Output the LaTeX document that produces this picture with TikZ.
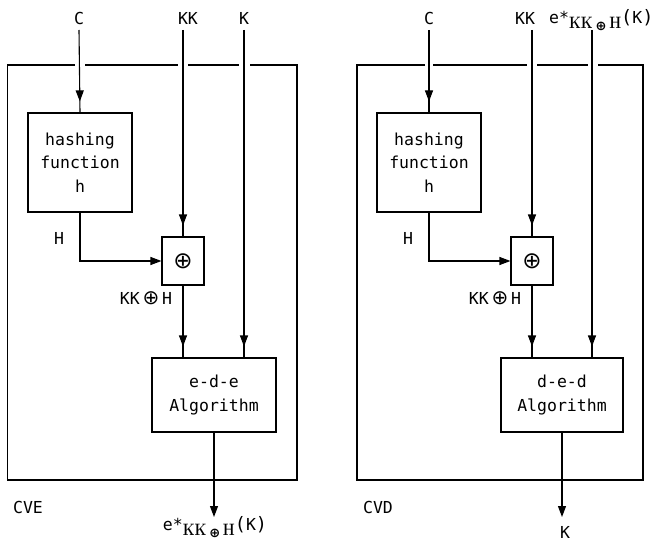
\documentclass[tikz,border=0pt]{standalone}
\usepackage{fontspec}
\usepackage{graphicx}
\setmonofont{DejaVu Sans Mono}
\newfontfamily\symfam{DejaVu Sans}
\usetikzlibrary{arrows.meta,decorations.markings}

% bold serif subscript part of the cipher label
\newcommand\kkhpart{{\rmfamily\bfseries\fontsize{16.5}{16.5}\selectfont\scalebox{0.82}[1]{KK}\,{\symfam\fontsize{13}{13}\selectfont\raisebox{-2pt}{⊕}}\,\scalebox{0.82}[1]{H}}}
\newcommand\cipherlabel{e*\raisebox{-5pt}{\kkhpart}{\fontsize{18.5}{18.5}\selectfont(}K{\fontsize{18.5}{18.5}\selectfont)}}
\newcommand\xorsym[1]{{\symfam\fontsize{#1}{#1}\selectfont ⊕}}

\tikzset{
  wire/.style={line width=1.1pt},
  feed/.style={wire, postaction={decorate},
    decoration={markings, mark=at position -11pt with {\arrow{Triangle[length=11pt,width=8pt]}}}},
  into/.style={wire, -{Triangle[length=11pt,width=8pt]}},
  blockbox/.style={draw, line width=1.1pt, inner sep=0pt, align=center},
  lbl/.style={inner sep=1pt},
}

\begin{document}
\begin{tikzpicture}[x=1pt, y=-1pt, font=\ttfamily\fontsize{16.5}{23.5}\selectfont]
\path[use as bounding box] (0,0) rectangle (657,543);

% ---------------- left unit: CVE ----------------
\draw[wire] (75,65) -| (7.5,480) -| (297,65) -- (250,65);
\draw[wire] (85,65) -- (178,65);
\draw[wire] (188,65) -- (239,65);

\node[lbl] (cL) at (79,18) {C};
\node[lbl] (kkL) at (188,18) {KK};
\node[lbl] (kL) at (244,18) {K};
\coordinate (cinL) at (79,30);
\coordinate (kkinL) at (183,30);
\coordinate (kinL) at (244,30);

\node[blockbox, minimum width=104pt, minimum height=99pt] (hL) at (80,162.5) {hashing\\function\\h};
\node[blockbox, minimum width=42pt, minimum height=48pt] (xL) at (183,261) {\xorsym{23}};
\node[blockbox, minimum width=124pt, minimum height=74pt] (aL) at (214,395) {e-d-e\\Algorithm};

\node[lbl] (hlabL) at (59,238) {H};
\node[lbl] (kxhL) at (146,298) {KK\,\xorsym{20}\,H};
\node[lbl] (cveL) at (28,507) {CVE};
\coordinate (outL) at (214,517);
\node[lbl, anchor=base] (resL) at (215,530) {\cipherlabel};

\draw[feed] (cinL) -- (hL.north);
\draw[feed] (kkinL) -- (xL.north);
\draw[into] (hL.south) |- (xL.west);
\draw[feed] (xL.south) -- (xL.south |- aL.north);
\draw[feed] (kinL) -- (kinL |- aL.north);
\draw[into] (aL.south) -- (outL);

% ---------------- right unit: CVD ----------------
\draw[wire] (425,65) -| (357,480) -| (643,65) -- (598,65);
\draw[wire] (433,65) -- (527,65);
\draw[wire] (537,65) -- (588,65);

\node[lbl] (cR) at (429,18) {C};
\node[lbl] (kkR) at (525,18) {KK};
\node[lbl, anchor=base west] (eR) at (548,24) {\cipherlabel};
\coordinate (cinR) at (429,30);
\coordinate (kkinR) at (532,30);
\coordinate (einR) at (592,30);

\node[blockbox, minimum width=104pt, minimum height=99pt] (hR) at (429,162.5) {hashing\\function\\h};
\node[blockbox, minimum width=42pt, minimum height=48pt] (xR) at (532,261) {\xorsym{23}};
\node[blockbox, minimum width=122pt, minimum height=74pt] (aR) at (562,395) {d-e-d\\Algorithm};

\node[lbl] (hlabR) at (408,238) {H};
\node[lbl] (kxhR) at (495,298) {KK\,\xorsym{20}\,H};
\node[lbl] (cvdR) at (378,507) {CVD};
\coordinate (outR) at (562,517);
\node[lbl] (resR) at (565,532) {K};

\draw[feed] (cinR) -- (hR.north);
\draw[feed] (kkinR) -- (xR.north);
\draw[into] (hR.south) |- (xR.west);
\draw[feed] (xR.south) -- (xR.south |- aR.north);
\draw[feed] (einR) -- (einR |- aR.north);
\draw[into] (aR.south) -- (outR);
\end{tikzpicture}
\end{document}
